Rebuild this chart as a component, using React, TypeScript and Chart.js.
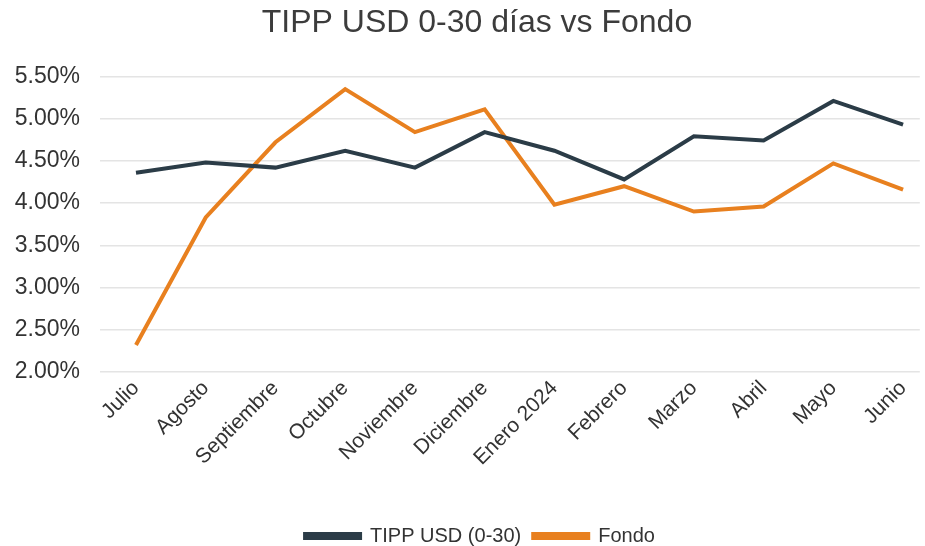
import React, { useEffect, useRef } from "react";
import { Chart, registerables } from "chart.js";

Chart.register(...registerables);

const categories = [
  "Julio", "Agosto", "Septiembre", "Octubre", "Noviembre", "Diciembre",
  "Enero 2024", "Febrero", "Marzo", "Abril", "Mayo", "Junio",
];
const tippValues = [4.36, 4.48, 4.42, 4.62, 4.42, 4.84, 4.62, 4.28, 4.79, 4.74, 5.21, 4.93];
const fondoValues = [2.32, 3.83, 4.72, 5.35, 4.84, 5.11, 3.98, 4.2, 3.9, 3.96, 4.47, 4.16];
const seriesNames = ["TIPP USD (0-30)", "Fondo"];
const titleText = "TIPP USD 0-30 días vs Fondo";
const yMin = 2;
const yMax = 5.5;
const yStep = 0.5;

const FONT = "'Liberation Sans', Arial, sans-serif";

const shiftBlocks = {
  id: "shiftBlocks",
  afterLayout(chart: any) {
    const t = chart.titleBlock;
    if (t) {
      t.left += 17;
      t.right += 17;
    }
    const l = chart.legend;
    if (l) {
      l.left += 20;
      l.right += 20;
    }
  },
};

export default function App() {
  const ref = useRef<HTMLCanvasElement | null>(null);

  useEffect(() => {
    document.body.style.margin = "0";
    const canvas = ref.current;
    if (!canvas) return;
    const toPts = (arr: number[]) => arr.map((v, i) => ({ x: i, y: v }));
    const chart = new Chart(canvas, {
      type: "line",
      data: {
        datasets: [
          {
            label: seriesNames[0],
            data: toPts(tippValues),
            borderColor: "#2b3c47",
            backgroundColor: "#2b3c47",
            borderWidth: 4,
            pointRadius: 0,
            tension: 0,
          },
          {
            label: seriesNames[1],
            data: toPts(fondoValues),
            borderColor: "#e8801f",
            backgroundColor: "#e8801f",
            borderWidth: 4,
            pointRadius: 0,
            tension: 0,
          },
        ],
      },
      plugins: [shiftBlocks],
      options: {
        animation: false,
        responsive: false,
        maintainAspectRatio: false,
        layout: { padding: { left: 0, right: 5, top: 0, bottom: -10 } },
        plugins: {
          title: {
            display: true,
            text: titleText,
            color: "#3c3c3c",
            font: { family: FONT, size: 32, weight: "normal" },
            padding: { top: 4, bottom: 34 },
          },
          legend: {
            position: "bottom",
            labels: {
              color: "#333",
              font: { family: FONT, size: 20 },
              boxWidth: 55,
              boxHeight: 4,
              padding: 12,
            },
          },
          tooltip: { enabled: false },
        },
        scales: {
          x: {
            type: "linear",
            min: -0.516,
            max: 11.24,
            grid: { display: false, drawTicks: false },
            border: { display: false },
            afterBuildTicks: (scale: any) => {
              scale.ticks = categories.map((_, i) => ({ value: i }));
            },
            afterFit: (scale: any) => {
              scale.height = 142;
            },
            ticks: {
              autoSkip: false,
              minRotation: 45,
              maxRotation: 45,
              padding: 4,
              color: "#333",
              font: { family: FONT, size: 21 },
              callback: (v: any) => categories[Math.round(Number(v))] ?? "",
            },
          },
          y: {
            min: yMin,
            max: yMax,
            grid: { color: "#e4e4e4", lineWidth: 1.5, drawTicks: false },
            border: { display: false },
            afterFit: (scale: any) => {
              scale.width = 100;
            },
            ticks: {
              stepSize: yStep,
              padding: 20,
              color: "#333",
              font: { family: FONT, size: 23 },
              callback: (v: any) => Number(v).toFixed(2) + "%",
            },
          },
        },
      },
    } as any);
    return () => chart.destroy();
  }, []);

  return (
    <div style={{ width: 925, height: 546, background: "#fff" }}>
      <canvas ref={ref} width={925} height={546} style={{ display: "block" }} />
    </div>
  );
}
